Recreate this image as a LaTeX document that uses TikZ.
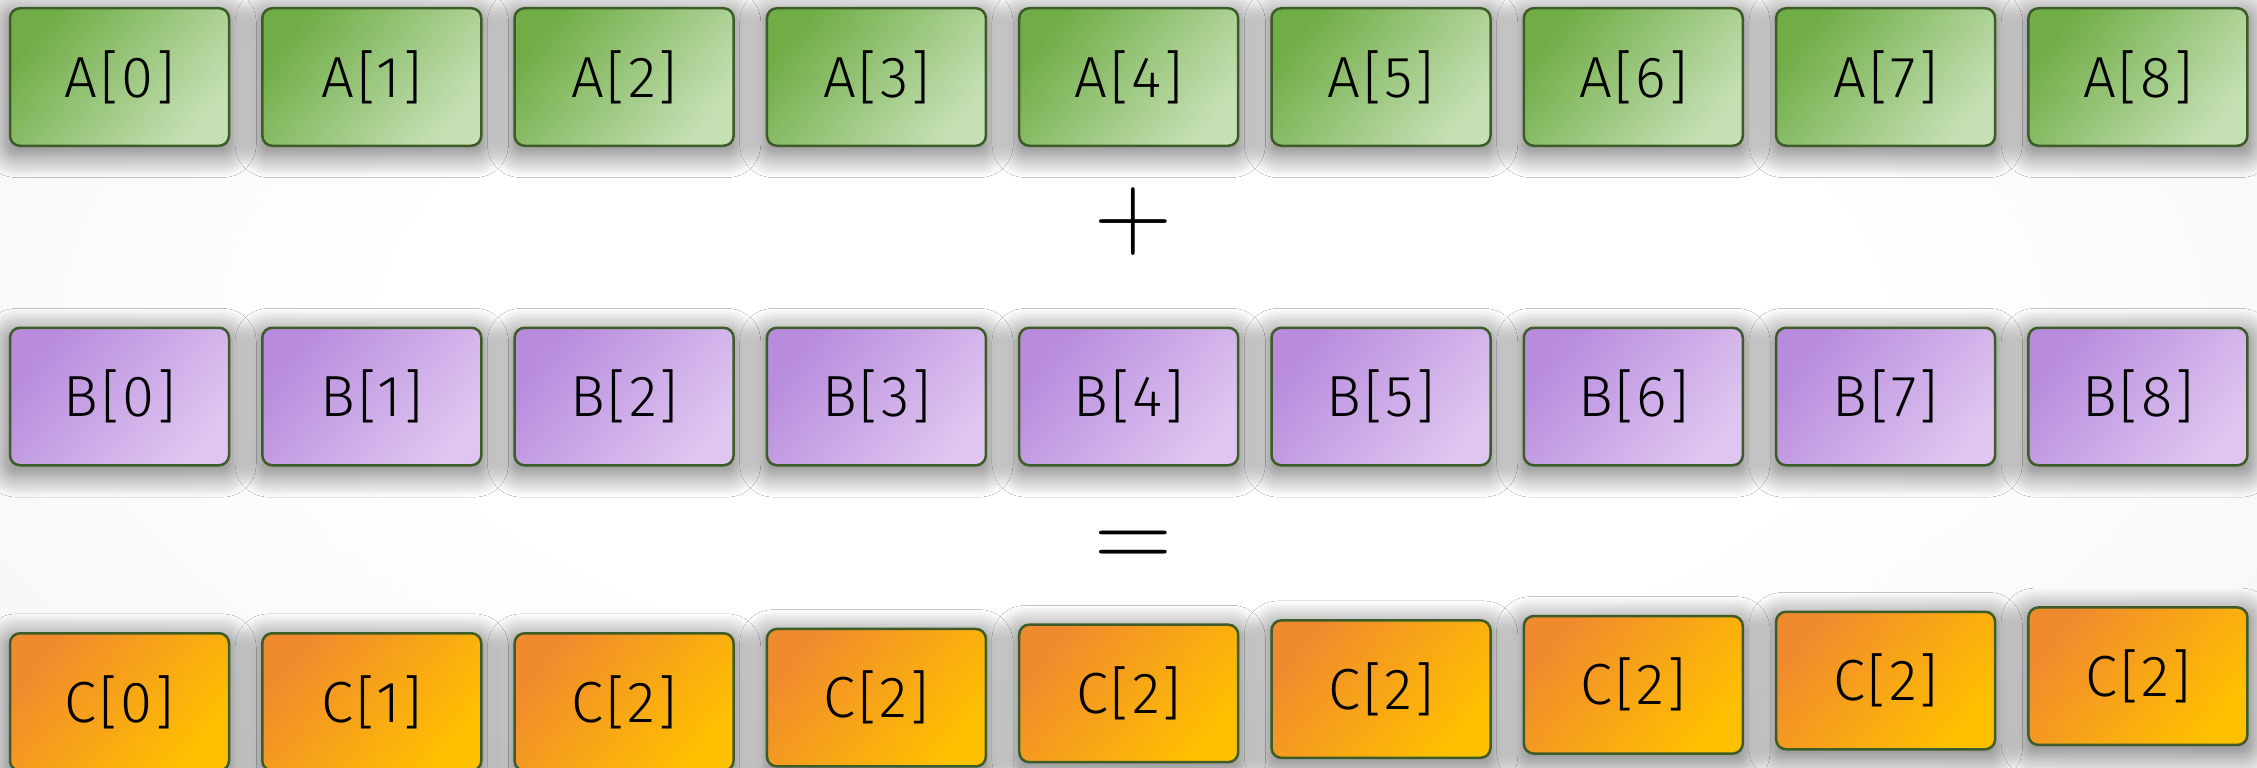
\documentclass[tikz,border=0pt]{standalone}
\usepackage{fontspec}
\usetikzlibrary{shadows.blur}
\newfontfamily\boxfont{Fira Sans Light}[LetterSpace=5]
\definecolor{agreen}{HTML}{70AD47}
\definecolor{alight}{HTML}{C5E0B4}
\definecolor{bdark}{HTML}{B88BDD}
\definecolor{blight}{HTML}{DEC6F0}
\definecolor{cdark}{HTML}{F08A2E}
\definecolor{clight}{HTML}{FFC000}
\definecolor{edgecol}{HTML}{3D5C27}
\definecolor{bgout}{HTML}{E2E2E2}
\pgfdeclareradialshading{bgshade}{\pgfpoint{0bp}{0bp}}{color(0bp)=(white); color(12bp)=(white); color(50bp)=(bgout)}
\begin{document}
\begin{tikzpicture}[x=1pt,y=-1pt,
  cell/.style={rectangle, rounded corners=10pt, draw=edgecol, line width=2.5pt,
    minimum width=219pt, minimum height=137.5pt, inner sep=0pt,
    font=\boxfont\fontsize{58}{60}\selectfont,
    blur shadow={shadow xshift=0pt, shadow yshift=-6pt, shadow blur radius=22pt, shadow blur steps=24, shadow opacity=55, shadow scale=1.04}},
  acell/.style={cell, top color=agreen, bottom color=alight, shading angle=50},
  bcell/.style={cell, top color=bdark, bottom color=blight, shading angle=50},
  ccell/.style={cell, top color=cdark, bottom color=clight, shading angle=50},
  symb/.style={inner sep=0pt, font=\fontsize{108}{108}\selectfont}
]
\useasboundingbox (0,0) rectangle (2257,768);
\fill[bgout] (0,0) rectangle (2257,768);
\begin{scope}
  \clip (0,0) rectangle (2257,768);
  \shade[shading=bgshade] (1133,330) ellipse (1500 and 700);
\end{scope}
\foreach \i in {0,...,8} {
  \node[acell] (a\i) at ({119.5+252.3*\i},77) {A[\i]};
  \node[bcell] (b\i) at ({119.5+252.3*\i},396.5) {B[\i]};
}
\node[ccell] (c0) at (119.5,702) {C[0]};
\node[ccell] (c1) at (371.8,702) {C[1]};
\foreach \i in {2,...,8} {
  \pgfmathsetmacro\cy{702-4.3*(\i-2)}
  \node[ccell] (c\i) at ({119.5+252.3*\i},\cy) {C[2]};
}
\node[symb] (plus) at (1133,222) {+};
\node[symb] (eq) at (1133,550) {=};
\end{tikzpicture}
\end{document}
